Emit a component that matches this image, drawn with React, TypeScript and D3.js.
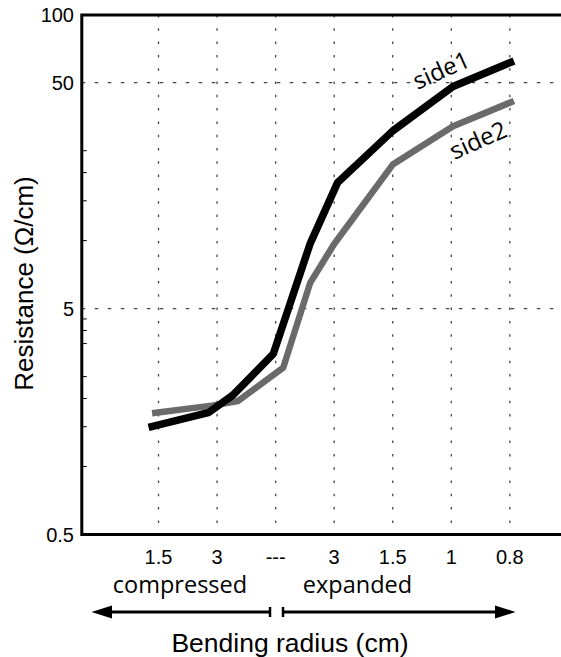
import * as d3 from 'd3';

const width = 561;
const height = 657;

// category positions along the bending axis (index 0..6)
const xCats = ['1.5', '3', '---', '3', '1.5', '1', '0.8'];
const yLabels = [0.5, 5, 50, 100];
const yGrid = [5, 50];
const yMinor = [1, 1.5, 2, 2.5, 3.5, 4, 4.5, 10, 15, 20, 25];

const side1X = [-0.17, 0.85, 1.27, 1.96, 2.59, 3.06, 4.0, 5.03, 6.07];
const side1Y = [1.49, 1.73, 2.07, 3.15, 9.7, 18.1, 30.6, 48.1, 62.4];
const side2X = [-0.11, 0.91, 1.36, 2.13, 2.59, 3.0, 4.0, 5.03, 6.07];
const side2Y = [1.72, 1.86, 1.95, 2.74, 6.5, 9.66, 21.7, 32.1, 41.5];

const left = 81.8;
const top = 15;
const bottom = 534.5;

const arial = '"Liberation Sans", Arial, sans-serif';
const myriad = '"Open Sans", sans-serif';

export default function App() {
  const x = d3.scaleLinear([-1.31, 7], [left, 568.4]);
  const y = d3.scaleLog([0.5, 100], [bottom, 14.7]);
  const line = d3
    .line<[number, number]>()
    .x((d) => x(d[0]))
    .y((d) => y(d[1]));
  const s1 = side1X.map((v, i) => [v, side1Y[i]] as [number, number]);
  const s2 = side2X.map((v, i) => [v, side2Y[i]] as [number, number]);
  const arrowY = 612;

  return (
    <svg
      width={width}
      height={height}
      style={{ position: 'absolute', left: 0, top: 0, background: '#fff' }}
    >
      {/* grid */}
      {xCats.map((_, i) => (
        <line
          key={'vg' + i}
          x1={x(i)}
          x2={x(i)}
          y1={top}
          y2={bottom}
          stroke="#444"
          strokeWidth={1.3}
          strokeDasharray="2.5,10.8"
        />
      ))}
      {yGrid.map((v) => (
        <line
          key={'hg' + v}
          x1={left}
          x2={width}
          y1={y(v)}
          y2={y(v)}
          stroke="#444"
          strokeWidth={1.3}
          strokeDasharray="3.5,9.5"
        />
      ))}
      {yMinor.map((v) => (
        <line
          key={'mt' + v}
          x1={left}
          x2={left + 5}
          y1={y(v)}
          y2={y(v)}
          stroke="#000"
          strokeWidth={1}
        />
      ))}

      {/* frame */}
      <path
        d={`M${width + 5},${top} H${left} V${bottom} H${width + 5}`}
        fill="none"
        stroke="#000"
        strokeWidth={3}
      />

      {/* series */}
      <path
        d={line(s2) ?? ''}
        fill="none"
        stroke="#6a6a6a"
        strokeWidth={6.5}
        strokeLinejoin="round"
      />
      <path
        d={line(s1) ?? ''}
        fill="none"
        stroke="#000"
        strokeWidth={7.5}
        strokeLinejoin="round"
      />

      <text
        x={442}
        y={72}
        fontFamily={myriad}
        fontSize={24}
        textAnchor="middle"
        dominantBaseline="middle"
        transform="rotate(-24 442 72)"
      >
        side1
      </text>
      <text
        x={479}
        y={142}
        fontFamily={myriad}
        fontSize={24}
        textAnchor="middle"
        dominantBaseline="middle"
        transform="rotate(-24 479 142)"
      >
        side2
      </text>

      {/* y tick labels */}
      {yLabels.map((v) => (
        <text
          key={'yl' + v}
          x={74}
          y={y(v)}
          dy="0.35em"
          fontFamily={arial}
          fontSize={20}
          textAnchor="end"
        >
          {v}
        </text>
      ))}

      {/* x tick labels */}
      {xCats.map((c, i) => (
        <text
          key={'xl' + i}
          x={x(i)}
          y={564}
          fontFamily={arial}
          fontSize={20}
          textAnchor="middle"
        >
          {c}
        </text>
      ))}

      <text x={180} y={593} fontFamily={myriad} fontSize={23.5} textAnchor="middle">
        compressed
      </text>
      <text x={357.5} y={593} fontFamily={myriad} fontSize={23.5} textAnchor="middle">
        expanded
      </text>

      {/* arrows */}
      <g stroke="#000" strokeWidth={3}>
        <line x1={108} x2={270} y1={arrowY} y2={arrowY} />
        <line x1={270} x2={270} y1={arrowY - 5} y2={arrowY + 5} strokeWidth={2.5} />
        <line x1={283} x2={499} y1={arrowY} y2={arrowY} />
        <line x1={283} x2={283} y1={arrowY - 5} y2={arrowY + 5} strokeWidth={2.5} />
      </g>
      <path
        d={`M91.5,${arrowY} L112,${arrowY - 6.5} L112,${arrowY + 6.5} Z`}
        fill="#000"
      />
      <path
        d={`M515.5,${arrowY} L495,${arrowY - 6.5} L495,${arrowY + 6.5} Z`}
        fill="#000"
      />

      <text x={290} y={651.5} fontFamily={arial} fontSize={26.5} textAnchor="middle">
        Bending radius (cm)
      </text>
      <text
        x={0}
        y={0}
        fontFamily={arial}
        fontSize={26}
        textAnchor="middle"
        transform="translate(32.5 283.5) rotate(-90)"
      >
        Resistance (Ω/cm)
      </text>
    </svg>
  );
}
